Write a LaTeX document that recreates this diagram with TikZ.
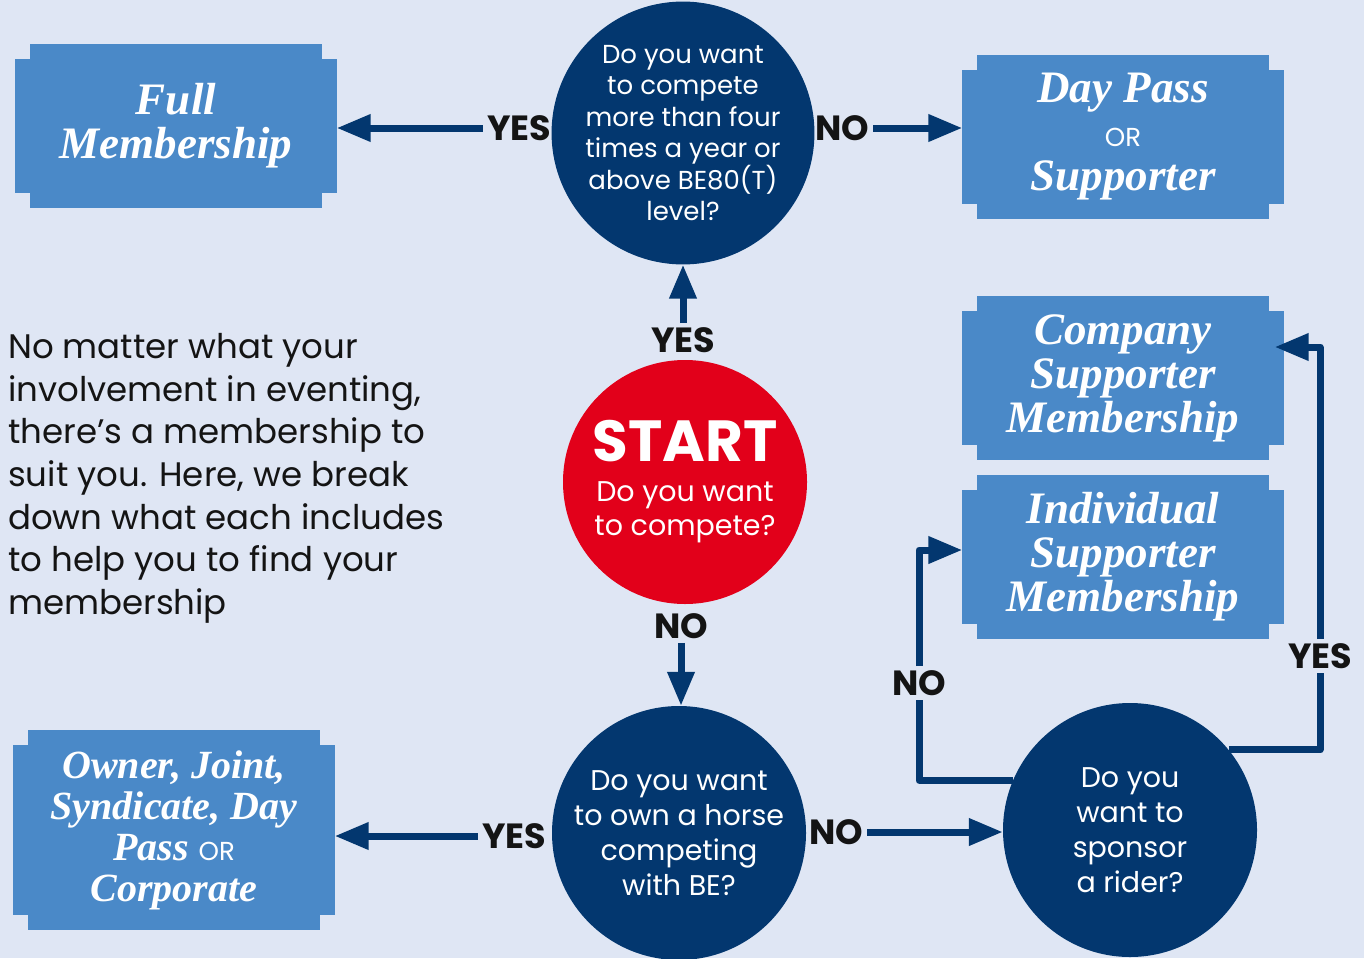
\documentclass[tikz,border=0pt]{standalone}
\usepackage{fontspec}
\setsansfont{Poppins}
\newfontfamily\didone{Liberation Serif}
\usetikzlibrary{arrows.meta,backgrounds}
\definecolor{paper}{HTML}{DFE6F4}
\definecolor{boxblue}{HTML}{4A89C8}
\definecolor{navy}{HTML}{03376F}
\definecolor{startred}{HTML}{E2001A}
\definecolor{ink}{HTML}{141414}
\newcommand{\orword}{{\sffamily\mdseries\upshape\fontsize{26}{26}\selectfont OR}}
\tikzset{
  ticket/.style={minimum width=321pt, minimum height=164pt, inner sep=0pt,
    align=center, text=white, font=\didone\bfseries\itshape\fontsize{45}{44}\selectfont},
  query/.style={circle, fill=navy, minimum size=254pt, inner sep=0pt, align=center,
    text=white, font=\sffamily\fontsize{26}{31.5}\selectfont},
  answer/.style={font=\sffamily\bfseries\fontsize{35}{35}\selectfont, text=ink, inner sep=4pt},
  flow/.style={draw=navy, line width=7pt, line join=round, -{Triangle[length=34pt,width=26pt]}},
  link/.style={draw=navy, line width=7pt, line join=round},
}
\begin{document}
\begin{tikzpicture}[x=1pt, y=-1pt]
  \useasboundingbox (0,0) rectangle (1364,958);

  % questions
  \node[query] (often) at (683,133) {Do you want\\to compete\\more than four\\times a year or\\above BE80(T)\\level?};
  \node[query, fill=startred, minimum size=244pt, font=\sffamily\fontsize{28.5}{34}\selectfont] (start) at (685,482)
    {{\bfseries\fontsize{58}{58}\selectfont START}\\[6pt]Do you want\\to compete?};
  \node[query, font=\sffamily\fontsize{28.5}{35}\selectfont] (horse) at (679,833) {Do you want\\to own a horse\\competing\\with BE?};
  \node[query, font=\sffamily\fontsize{28.5}{35}\selectfont] (sponsor) at (1130,830) {Do you\\want to\\sponsor\\a rider?};

  % memberships
  \node[ticket] (full) at (176,126) {Full\\Membership};
  \node[ticket] (daypass) at (1123,137) {Day Pass\\\orword\\Supporter};
  \node[ticket] (company) at (1123,378) {Company\\Supporter\\Membership};
  \node[ticket] (indiv) at (1123,557) {Individual\\Supporter\\Membership};
  \node[ticket, minimum height=199pt, font=\didone\bfseries\itshape\fontsize{40}{41}\selectfont] (owner) at (174,830)
    {Owner, Joint,\\Syndicate, Day\\Pass \orword\\Corporate};

  \node[anchor=north west, align=left, inner sep=0pt, text=ink, font=\sffamily\fontsize{34}{42.7}\selectfont] (intro) at (8,333)
    {No matter what your\\involvement in eventing,\\there’s a membership to\\suit you. Here, we break\\down what each includes\\to help you to find your\\membership};

  % answers
  \node[answer] (yesA) at (519,128) {YES};
  \node[answer] (noA) at (842,128) {NO};
  \node[answer] (yesB) at (683,340) {YES};
  \node[answer] (noB) at (681,626) {NO};
  \node[answer] (yesC) at (514,836) {YES};
  \node[answer] (noC) at (836,832) {NO};
  \node[answer] (noD) at (919,683) {NO};
  \node[answer] (yesD) at (1320,656) {YES};

  % connectors
  \draw[flow] (yesA) -- (yesA -| full.east);
  \draw[flow] (noA) -- (noA -| daypass.west);
  \draw[flow] (yesB) -- (yesB |- often.south);
  \draw[flow] (noB) -- (noB |- horse.north);
  \draw[flow] (yesC) -- (yesC -| owner.east);
  \draw[flow] (noC) -- (noC -| sponsor.west);
  \draw[link] (sponsor.157) -| (noD);
  \draw[flow] (noD) |- ([yshift=7pt]indiv.west);
  \draw[link] (sponsor.39) -| (yesD);
  \draw[flow] (yesD) |- ([xshift=-9pt,yshift=31pt]company.east);

  % ticket shapes with notched corners
  \begin{scope}[on background layer]
    \fill[paper] (0,0) rectangle (1364,958);
    \foreach \t in {full,daypass,company,indiv,owner}{
      \fill[boxblue] ([xshift=15pt]\t.north west) rectangle ([xshift=-15pt]\t.south east);
      \fill[boxblue] ([yshift=-15pt]\t.north west) rectangle ([yshift=15pt]\t.south east);
    }
  \end{scope}
\end{tikzpicture}
\end{document}
